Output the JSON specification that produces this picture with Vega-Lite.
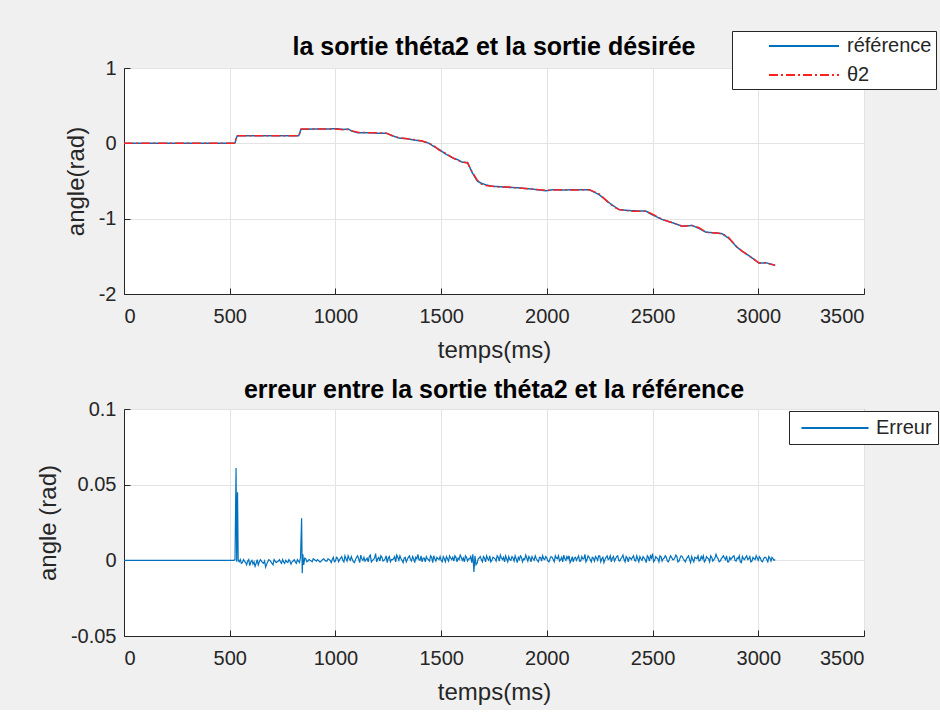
{
  "$schema": "https://vega.github.io/schema/vega-lite/v6.json",
  "autosize": {"type": "pad"},
  "padding": {"left": 35, "top": 30, "right": 3, "bottom": 5},
  "background": "#f0f0f0",
  "spacing": 115,
  "bounds": "flush",
  "config": {
    "font": "Liberation Sans",
    "view": {"fill": "white", "stroke": "#262626", "strokeWidth": 1},
    "axis": {"domainColor": "#262626", "tickColor": "#262626", "labelColor": "#262626", "titleColor": "#262626", "gridColor": "#e3e3e3", "labelFontSize": 20, "titleFontSize": 24, "titleFontWeight": "normal", "labelFont": "Liberation Sans", "titleFont": "Liberation Sans", "tickSize": -6},
    "axisX": {"labelPadding": 18, "titlePadding": 12, "format": "d"},
    "axisY": {"labelPadding": 14, "titlePadding": 10},
    "title": {"fontSize": 25, "fontWeight": "bold", "color": "#000000", "anchor": "middle", "font": "Liberation Sans"}
  },
  "datasets": {
    "top": [
      {"t": 0, "référence": 0, "θ2": 0},
      {"t": 300, "référence": 0, "θ2": 0},
      {"t": 525, "référence": 0, "θ2": 0},
      {"t": 530, "référence": 0.06, "θ2": 0.07},
      {"t": 536, "référence": 0.1, "θ2": 0.1},
      {"t": 600, "référence": 0.1, "θ2": 0.1},
      {"t": 700, "référence": 0.102, "θ2": 0.1},
      {"t": 780, "référence": 0.1, "θ2": 0.1},
      {"t": 826, "référence": 0.1, "θ2": 0.1},
      {"t": 830, "référence": 0.13, "θ2": 0.12},
      {"t": 837, "référence": 0.185, "θ2": 0.19},
      {"t": 900, "référence": 0.19, "θ2": 0.19},
      {"t": 960, "référence": 0.19, "θ2": 0.19},
      {"t": 1000, "référence": 0.195, "θ2": 0.19},
      {"t": 1040, "référence": 0.185, "θ2": 0.18},
      {"t": 1060, "référence": 0.19, "θ2": 0.185},
      {"t": 1080, "référence": 0.16, "θ2": 0.165},
      {"t": 1110, "référence": 0.14, "θ2": 0.145},
      {"t": 1170, "référence": 0.14, "θ2": 0.14},
      {"t": 1200, "référence": 0.135, "θ2": 0.14},
      {"t": 1240, "référence": 0.135, "θ2": 0.135},
      {"t": 1270, "référence": 0.1, "θ2": 0.1},
      {"t": 1300, "référence": 0.07, "θ2": 0.075},
      {"t": 1340, "référence": 0.06, "θ2": 0.06},
      {"t": 1370, "référence": 0.045, "θ2": 0.05},
      {"t": 1410, "référence": 0.03, "θ2": 0.03},
      {"t": 1443, "référence": 0.0, "θ2": 0.0},
      {"t": 1470, "référence": -0.05, "θ2": -0.04},
      {"t": 1490, "référence": -0.08, "θ2": -0.09},
      {"t": 1520, "référence": -0.14, "θ2": -0.13},
      {"t": 1553, "référence": -0.19, "θ2": -0.19},
      {"t": 1580, "référence": -0.22, "θ2": -0.23},
      {"t": 1600, "référence": -0.25, "θ2": -0.25},
      {"t": 1625, "référence": -0.255, "θ2": -0.26},
      {"t": 1647, "référence": -0.39, "θ2": -0.38},
      {"t": 1671, "référence": -0.5, "θ2": -0.49},
      {"t": 1690, "référence": -0.53, "θ2": -0.54},
      {"t": 1711, "référence": -0.55, "θ2": -0.56},
      {"t": 1740, "référence": -0.57, "θ2": -0.57},
      {"t": 1774, "référence": -0.575, "θ2": -0.58},
      {"t": 1821, "référence": -0.585, "θ2": -0.58},
      {"t": 1860, "référence": -0.59, "θ2": -0.59},
      {"t": 1900, "référence": -0.6, "θ2": -0.6},
      {"t": 1940, "référence": -0.61, "θ2": -0.61},
      {"t": 1996, "référence": -0.63, "θ2": -0.625},
      {"t": 2030, "référence": -0.615, "θ2": -0.62},
      {"t": 2080, "référence": -0.62, "θ2": -0.615},
      {"t": 2130, "référence": -0.615, "θ2": -0.62},
      {"t": 2200, "référence": -0.615, "θ2": -0.615},
      {"t": 2247, "référence": -0.68, "θ2": -0.67},
      {"t": 2290, "référence": -0.78, "θ2": -0.78},
      {"t": 2320, "référence": -0.84, "θ2": -0.85},
      {"t": 2342, "référence": -0.88, "θ2": -0.88},
      {"t": 2400, "référence": -0.895, "θ2": -0.9},
      {"t": 2469, "référence": -0.9, "θ2": -0.9},
      {"t": 2500, "référence": -0.95, "θ2": -0.94},
      {"t": 2545, "référence": -1.01, "θ2": -1.01},
      {"t": 2590, "référence": -1.05, "θ2": -1.05},
      {"t": 2640, "référence": -1.1, "θ2": -1.1},
      {"t": 2687, "référence": -1.09, "θ2": -1.09},
      {"t": 2720, "référence": -1.13, "θ2": -1.12},
      {"t": 2753, "référence": -1.18, "θ2": -1.18},
      {"t": 2800, "référence": -1.19, "θ2": -1.19},
      {"t": 2829, "référence": -1.2, "θ2": -1.2},
      {"t": 2860, "référence": -1.26, "θ2": -1.25},
      {"t": 2900, "référence": -1.38, "θ2": -1.38},
      {"t": 2923, "référence": -1.43, "θ2": -1.43},
      {"t": 2960, "référence": -1.5, "θ2": -1.5},
      {"t": 3004, "référence": -1.59, "θ2": -1.59},
      {"t": 3037, "référence": -1.585, "θ2": -1.59},
      {"t": 3055, "référence": -1.6, "θ2": -1.6},
      {"t": 3080, "référence": -1.62, "θ2": -1.62}
    ],
    "err": [
      {"t": 0, "e": 0}, {"t": 520, "e": 0}, {"t": 525, "e": 0.0005}, {"t": 530, "e": 0.061}, {"t": 533, "e": -0.001}, {"t": 537, "e": 0.045}, {"t": 540, "e": 0}, {"t": 545, "e": -0.001},
      {"t": 550, "e": 0.0005}, {"t": 560, "e": -0.0015}, {"t": 570, "e": -0.0005}, {"t": 580, "e": -0.003}, {"t": 590, "e": 0.0005}, {"t": 600, "e": -0.001}, {"t": 610, "e": -0.0025}, {"t": 620, "e": -0.004}, {"t": 630, "e": 0.0005}, {"t": 640, "e": -0.001}, {"t": 650, "e": -0.0005}, {"t": 660, "e": -0.002}, {"t": 670, "e": -0.0045}, {"t": 680, "e": -0.001}, {"t": 690, "e": 0}, {"t": 700, "e": -0.002}, {"t": 710, "e": 0.0005}, {"t": 720, "e": -0.0015}, {"t": 730, "e": -0.0005}, {"t": 740, "e": -0.001}, {"t": 750, "e": 0.0005}, {"t": 760, "e": -0.002}, {"t": 770, "e": -0.001}, {"t": 780, "e": 0.0005}, {"t": 790, "e": -0.0025}, {"t": 800, "e": -0.0005}, {"t": 810, "e": -0.001}, {"t": 820, "e": 0.0005}, {"t": 830, "e": -0.0015},
      {"t": 835, "e": 0.002}, {"t": 840, "e": 0.0278}, {"t": 843, "e": -0.0086}, {"t": 846, "e": 0.004}, {"t": 850, "e": -0.003}, {"t": 860, "e": 0.001}, {"t": 870, "e": -0.0005}, {"t": 880, "e": 0}, {"t": 890, "e": -0.001}, {"t": 900, "e": 0.0005}, {"t": 910, "e": -0.0005}, {"t": 920, "e": 0}, {"t": 930, "e": -0.001}, {"t": 940, "e": 0.0005}, {"t": 950, "e": 0}, {"t": 960, "e": -0.0005}, {"t": 970, "e": 0.0005}, {"t": 980, "e": -0.0015}, {"t": 990, "e": 0.002},
      {"t": 1000, "e": -0.0005}, {"t": 1010, "e": 0.0015}, {"t": 1020, "e": 0.0005}, {"t": 1030, "e": 0.0025}, {"t": 1040, "e": -0.001}, {"t": 1050, "e": 0.001}, {"t": 1060, "e": 0.003}, {"t": 1070, "e": 0}, {"t": 1080, "e": 0.0005}, {"t": 1090, "e": -0.0015}, {"t": 1100, "e": 0.002}, {"t": 1110, "e": 0.001}, {"t": 1120, "e": 0.0035}, {"t": 1130, "e": 0}, {"t": 1140, "e": -0.0005}, {"t": 1150, "e": 0.0015}, {"t": 1160, "e": 0.0025}, {"t": 1170, "e": -0.001}, {"t": 1180, "e": 0.0005}, {"t": 1190, "e": 0.0045}, {"t": 1200, "e": 0.001}, {"t": 1210, "e": -0.0005}, {"t": 1220, "e": 0.002}, {"t": 1230, "e": 0}, {"t": 1240, "e": 0.003}, {"t": 1250, "e": 0.0015}, {"t": 1260, "e": -0.001}, {"t": 1270, "e": 0.0005}, {"t": 1280, "e": 0.0025}, {"t": 1290, "e": 0.0035}, {"t": 1300, "e": 0}, {"t": 1310, "e": 0.001}, {"t": 1320, "e": -0.0015}, {"t": 1330, "e": 0.002}, {"t": 1340, "e": 0.0005}, {"t": 1350, "e": 0.003}, {"t": 1360, "e": -0.0005}, {"t": 1370, "e": 0.001}, {"t": 1380, "e": 0.002}, {"t": 1390, "e": 0.004}, {"t": 1400, "e": 0}, {"t": 1410, "e": -0.001}, {"t": 1420, "e": 0.0015}, {"t": 1430, "e": 0.0025}, {"t": 1440, "e": 0.0005}, {"t": 1450, "e": 0.003}, {"t": 1460, "e": -0.0015}, {"t": 1470, "e": 0.001}, {"t": 1480, "e": 0.002}, {"t": 1490, "e": 0.0005},
      {"t": 1500, "e": 0}, {"t": 1510, "e": 0.0025}, {"t": 1520, "e": -0.001}, {"t": 1530, "e": 0.001}, {"t": 1540, "e": 0.003}, {"t": 1550, "e": 0.0005}, {"t": 1560, "e": -0.0005}, {"t": 1570, "e": 0.002}, {"t": 1580, "e": 0.0015}, {"t": 1590, "e": 0.0035}, {"t": 1600, "e": 0}, {"t": 1610, "e": -0.001}, {"t": 1620, "e": 0.002}, {"t": 1630, "e": 0.001}, {"t": 1640, "e": 0.0025}, {"t": 1650, "e": 0.004}, {"t": 1655, "e": -0.0077}, {"t": 1660, "e": 0.003}, {"t": 1670, "e": -0.002}, {"t": 1680, "e": 0.0015}, {"t": 1690, "e": 0.0005}, {"t": 1700, "e": 0.0025}, {"t": 1710, "e": -0.001}, {"t": 1720, "e": 0.001}, {"t": 1730, "e": 0.003}, {"t": 1740, "e": 0}, {"t": 1750, "e": 0.0015}, {"t": 1760, "e": -0.0005}, {"t": 1770, "e": 0.002}, {"t": 1780, "e": 0.0035}, {"t": 1790, "e": 0.0005}, {"t": 1800, "e": -0.001}, {"t": 1810, "e": 0.001}, {"t": 1820, "e": 0.0025}, {"t": 1830, "e": 0}, {"t": 1840, "e": 0.0015}, {"t": 1850, "e": 0.003}, {"t": 1860, "e": -0.0015}, {"t": 1870, "e": 0.0005}, {"t": 1880, "e": 0.002}, {"t": 1890, "e": 0.001}, {"t": 1900, "e": 0.0035}, {"t": 1910, "e": -0.0005}, {"t": 1920, "e": 0.0015}, {"t": 1930, "e": 0.0025}, {"t": 1940, "e": 0}, {"t": 1950, "e": 0.001}, {"t": 1960, "e": -0.001}, {"t": 1970, "e": 0.002}, {"t": 1980, "e": 0.003}, {"t": 1990, "e": 0.0005},
      {"t": 2000, "e": 0.0015}, {"t": 2010, "e": -0.001}, {"t": 2020, "e": 0.0025}, {"t": 2030, "e": 0.0005}, {"t": 2040, "e": 0.003}, {"t": 2050, "e": 0.001}, {"t": 2060, "e": -0.0005}, {"t": 2070, "e": 0.002}, {"t": 2080, "e": 0.0035}, {"t": 2090, "e": 0}, {"t": 2100, "e": 0.001}, {"t": 2110, "e": -0.0015}, {"t": 2120, "e": 0.0025}, {"t": 2130, "e": 0.0015}, {"t": 2140, "e": 0}, {"t": 2150, "e": 0.003}, {"t": 2160, "e": -0.0005}, {"t": 2170, "e": 0.001}, {"t": 2180, "e": 0.004}, {"t": 2190, "e": 0.0005}, {"t": 2200, "e": 0.002}, {"t": 2210, "e": -0.001}, {"t": 2220, "e": 0.0015}, {"t": 2230, "e": 0.0025}, {"t": 2240, "e": 0}, {"t": 2250, "e": 0.003}, {"t": 2260, "e": 0.001}, {"t": 2270, "e": -0.0015}, {"t": 2280, "e": 0.002}, {"t": 2290, "e": 0.0005}, {"t": 2300, "e": 0.003}, {"t": 2310, "e": 0.0015}, {"t": 2320, "e": -0.0005}, {"t": 2330, "e": 0.0025}, {"t": 2340, "e": 0}, {"t": 2350, "e": 0.001}, {"t": 2360, "e": 0.0035}, {"t": 2370, "e": -0.001}, {"t": 2380, "e": 0.0015}, {"t": 2390, "e": 0.002}, {"t": 2400, "e": 0.0005}, {"t": 2410, "e": 0.003}, {"t": 2420, "e": -0.0005}, {"t": 2430, "e": 0.001}, {"t": 2440, "e": 0.0025}, {"t": 2450, "e": 0}, {"t": 2460, "e": 0.0015}, {"t": 2470, "e": -0.0015}, {"t": 2480, "e": 0.002}, {"t": 2490, "e": 0.003},
      {"t": 2500, "e": 0.0045}, {"t": 2510, "e": 0}, {"t": 2520, "e": 0.0015}, {"t": 2530, "e": -0.001}, {"t": 2540, "e": 0.0025}, {"t": 2550, "e": 0.001}, {"t": 2560, "e": 0.003}, {"t": 2570, "e": -0.0005}, {"t": 2580, "e": 0.001}, {"t": 2590, "e": 0.002}, {"t": 2600, "e": 0.0005}, {"t": 2610, "e": 0.0035}, {"t": 2620, "e": -0.001}, {"t": 2630, "e": 0.0015}, {"t": 2640, "e": 0.0025}, {"t": 2650, "e": 0}, {"t": 2660, "e": 0.001}, {"t": 2670, "e": 0.003}, {"t": 2680, "e": -0.0015}, {"t": 2690, "e": 0.0005}, {"t": 2700, "e": 0.002}, {"t": 2710, "e": 0.001}, {"t": 2720, "e": -0.0005}, {"t": 2730, "e": 0.0025}, {"t": 2740, "e": 0.003}, {"t": 2750, "e": 0}, {"t": 2760, "e": 0.0015}, {"t": 2770, "e": -0.001}, {"t": 2780, "e": 0.002}, {"t": 2790, "e": 0.0005}, {"t": 2800, "e": 0.004}, {"t": 2810, "e": 0.001}, {"t": 2820, "e": -0.0005}, {"t": 2830, "e": 0.002}, {"t": 2840, "e": 0.0015}, {"t": 2850, "e": 0.003}, {"t": 2860, "e": -0.001}, {"t": 2870, "e": 0.0005}, {"t": 2880, "e": 0.0025}, {"t": 2890, "e": 0}, {"t": 2900, "e": 0.0015}, {"t": 2910, "e": 0.003}, {"t": 2920, "e": -0.0015}, {"t": 2930, "e": 0.001}, {"t": 2940, "e": 0.002}, {"t": 2950, "e": 0.0005}, {"t": 2960, "e": 0.0025}, {"t": 2970, "e": -0.0005}, {"t": 2980, "e": 0.001}, {"t": 2990, "e": 0.003},
      {"t": 3000, "e": 0}, {"t": 3010, "e": 0.0015}, {"t": 3020, "e": -0.001}, {"t": 3030, "e": 0.002}, {"t": 3040, "e": 0.0005}, {"t": 3050, "e": 0.0025}, {"t": 3060, "e": -0.0005}, {"t": 3070, "e": 0.001}, {"t": 3080, "e": 0.0005},
      {"t": 555, "e": -0.002}, {"t": 565, "e": 0.0005}, {"t": 575, "e": -0.0015}, {"t": 585, "e": -0.0005}, {"t": 595, "e": -0.0035}, {"t": 605, "e": 0}, {"t": 615, "e": -0.001}, {"t": 625, "e": -0.002}, {"t": 635, "e": -0.003}, {"t": 645, "e": 0.0005}, {"t": 655, "e": -0.0015}, {"t": 665, "e": -0.0005}, {"t": 675, "e": -0.0025}, {"t": 685, "e": 0.0005}, {"t": 695, "e": -0.001}, {"t": 705, "e": -0.003}, {"t": 715, "e": -0.0005}, {"t": 725, "e": -0.001}, {"t": 735, "e": 0.0005}, {"t": 745, "e": -0.002}, {"t": 755, "e": -0.001}, {"t": 765, "e": 0}, {"t": 775, "e": -0.0015}, {"t": 785, "e": -0.0005}, {"t": 795, "e": -0.001}, {"t": 805, "e": 0.0005}, {"t": 815, "e": -0.002}, {"t": 825, "e": -0.0005},
      {"t": 855, "e": 0.0015}, {"t": 865, "e": -0.001}, {"t": 875, "e": 0.0005}, {"t": 885, "e": -0.0005}, {"t": 895, "e": 0.001}, {"t": 905, "e": 0}, {"t": 915, "e": 0.0005}, {"t": 925, "e": -0.001}, {"t": 935, "e": 0}, {"t": 945, "e": 0.001}, {"t": 955, "e": -0.0005}, {"t": 965, "e": 0.001}, {"t": 975, "e": 0}, {"t": 985, "e": 0.0005}, {"t": 995, "e": -0.001},
      {"t": 1005, "e": 0.002}, {"t": 1015, "e": -0.001}, {"t": 1025, "e": 0.0015}, {"t": 1035, "e": 0}, {"t": 1045, "e": 0.003}, {"t": 1055, "e": -0.0005}, {"t": 1065, "e": 0.001}, {"t": 1075, "e": 0.0025}, {"t": 1085, "e": -0.001}, {"t": 1095, "e": 0.0005}, {"t": 1105, "e": 0.003}, {"t": 1115, "e": -0.0015}, {"t": 1125, "e": 0.001}, {"t": 1135, "e": 0.002}, {"t": 1145, "e": 0.0005}, {"t": 1155, "e": -0.001}, {"t": 1165, "e": 0.0035}, {"t": 1175, "e": 0}, {"t": 1185, "e": 0.0015}, {"t": 1195, "e": -0.001}, {"t": 1205, "e": 0.002}, {"t": 1215, "e": 0.003}, {"t": 1225, "e": -0.0005}, {"t": 1235, "e": 0.001}, {"t": 1245, "e": -0.0015}, {"t": 1255, "e": 0.0025}, {"t": 1265, "e": 0.0005}, {"t": 1275, "e": 0.001}, {"t": 1285, "e": -0.001}, {"t": 1295, "e": 0.002}, {"t": 1305, "e": 0.003}, {"t": 1315, "e": 0}, {"t": 1325, "e": 0.0015}, {"t": 1335, "e": -0.001}, {"t": 1345, "e": 0.002}, {"t": 1355, "e": 0.0005}, {"t": 1365, "e": 0.0025}, {"t": 1375, "e": -0.0015}, {"t": 1385, "e": 0.001}, {"t": 1395, "e": 0.0005}, {"t": 1405, "e": 0.003}, {"t": 1415, "e": 0.0015}, {"t": 1425, "e": -0.001}, {"t": 1435, "e": 0.001}, {"t": 1445, "e": -0.0005}, {"t": 1455, "e": 0.002}, {"t": 1465, "e": 0.003}, {"t": 1475, "e": -0.0005}, {"t": 1485, "e": 0.001}, {"t": 1495, "e": 0.0025},
      {"t": 1505, "e": -0.001}, {"t": 1515, "e": 0.001}, {"t": 1525, "e": 0.0025}, {"t": 1535, "e": -0.0005}, {"t": 1545, "e": 0.0015}, {"t": 1555, "e": 0.002}, {"t": 1565, "e": 0.003}, {"t": 1575, "e": -0.001}, {"t": 1585, "e": 0.0005}, {"t": 1595, "e": 0.002}, {"t": 1605, "e": 0.0015}, {"t": 1615, "e": 0.003}, {"t": 1625, "e": -0.0005}, {"t": 1635, "e": 0.001}, {"t": 1645, "e": -0.0015}, {"t": 1665, "e": -0.003}, {"t": 1675, "e": 0.001}, {"t": 1685, "e": 0.0025}, {"t": 1695, "e": -0.001}, {"t": 1705, "e": 0.0015}, {"t": 1715, "e": 0.003}, {"t": 1725, "e": 0}, {"t": 1735, "e": -0.001}, {"t": 1745, "e": 0.002}, {"t": 1755, "e": 0.001}, {"t": 1765, "e": 0.003}, {"t": 1775, "e": -0.0005}, {"t": 1785, "e": 0.0015}, {"t": 1795, "e": 0.002}, {"t": 1805, "e": 0.003}, {"t": 1815, "e": -0.001}, {"t": 1825, "e": 0.0005}, {"t": 1835, "e": 0.0025}, {"t": 1845, "e": -0.0005}, {"t": 1855, "e": 0.001}, {"t": 1865, "e": 0.002}, {"t": 1875, "e": 0.003}, {"t": 1885, "e": -0.001}, {"t": 1895, "e": 0.0005}, {"t": 1905, "e": 0.0015}, {"t": 1915, "e": 0.0025}, {"t": 1925, "e": -0.001}, {"t": 1935, "e": 0.001}, {"t": 1945, "e": 0.003}, {"t": 1955, "e": 0}, {"t": 1965, "e": 0.002}, {"t": 1975, "e": -0.0005}, {"t": 1985, "e": 0.001}, {"t": 1995, "e": 0.0025},
      {"t": 2005, "e": -0.0005}, {"t": 2015, "e": 0.001}, {"t": 2025, "e": 0.002}, {"t": 2035, "e": -0.001}, {"t": 2045, "e": 0.0015}, {"t": 2055, "e": 0.003}, {"t": 2065, "e": 0.0005}, {"t": 2075, "e": -0.001}, {"t": 2085, "e": 0.001}, {"t": 2095, "e": 0.0025}, {"t": 2105, "e": 0.003}, {"t": 2115, "e": 0}, {"t": 2125, "e": -0.001}, {"t": 2135, "e": 0.002}, {"t": 2145, "e": 0.0015}, {"t": 2155, "e": -0.0005}, {"t": 2165, "e": 0.0025}, {"t": 2175, "e": 0.001}, {"t": 2185, "e": -0.001}, {"t": 2195, "e": 0.003}, {"t": 2205, "e": 0.0005}, {"t": 2215, "e": 0.002}, {"t": 2225, "e": -0.0005}, {"t": 2235, "e": 0.0015}, {"t": 2245, "e": 0.003}, {"t": 2255, "e": -0.001}, {"t": 2265, "e": 0.002}, {"t": 2275, "e": 0.0005}, {"t": 2285, "e": 0.003}, {"t": 2295, "e": 0.001}, {"t": 2305, "e": -0.001}, {"t": 2315, "e": 0.0025}, {"t": 2325, "e": 0.001}, {"t": 2335, "e": 0.003}, {"t": 2345, "e": -0.0005}, {"t": 2355, "e": 0.002}, {"t": 2365, "e": 0.0005}, {"t": 2375, "e": 0.0025}, {"t": 2385, "e": -0.001}, {"t": 2395, "e": 0.0015}, {"t": 2405, "e": 0.002}, {"t": 2415, "e": 0}, {"t": 2425, "e": 0.003}, {"t": 2435, "e": -0.001}, {"t": 2445, "e": 0.001}, {"t": 2455, "e": 0.0025}, {"t": 2465, "e": 0.0005}, {"t": 2475, "e": 0.003}, {"t": 2485, "e": -0.0005}, {"t": 2495, "e": 0.0015},
      {"t": 2505, "e": -0.001}, {"t": 2515, "e": 0.0025}, {"t": 2525, "e": 0.001}, {"t": 2535, "e": 0.003}, {"t": 2545, "e": -0.0005}, {"t": 2555, "e": 0.0015}, {"t": 2565, "e": 0.002}, {"t": 2575, "e": -0.001}, {"t": 2585, "e": 0.003}, {"t": 2595, "e": 0.0005}, {"t": 2605, "e": 0.0015}, {"t": 2615, "e": 0.0025}, {"t": 2625, "e": -0.0005}, {"t": 2635, "e": 0.003}, {"t": 2645, "e": 0.001}, {"t": 2655, "e": -0.001}, {"t": 2665, "e": 0.002}, {"t": 2675, "e": 0.0005}, {"t": 2685, "e": 0.0025}, {"t": 2695, "e": -0.001}, {"t": 2705, "e": 0.0015}, {"t": 2715, "e": 0.003}, {"t": 2725, "e": 0}, {"t": 2735, "e": 0.001}, {"t": 2745, "e": -0.001}, {"t": 2755, "e": 0.0025}, {"t": 2765, "e": 0.001}, {"t": 2775, "e": 0.003}, {"t": 2785, "e": -0.0005}, {"t": 2795, "e": 0.0015}, {"t": 2805, "e": 0.002}, {"t": 2815, "e": -0.001}, {"t": 2825, "e": 0.001}, {"t": 2835, "e": 0.003}, {"t": 2845, "e": 0.0005}, {"t": 2855, "e": -0.001}, {"t": 2865, "e": 0.002}, {"t": 2875, "e": 0.0015}, {"t": 2885, "e": 0.003}, {"t": 2895, "e": -0.0005}, {"t": 2905, "e": 0.001}, {"t": 2915, "e": -0.001}, {"t": 2925, "e": 0.0025}, {"t": 2935, "e": 0.0005}, {"t": 2945, "e": 0.003}, {"t": 2955, "e": 0.001}, {"t": 2965, "e": -0.001}, {"t": 2975, "e": 0.002}, {"t": 2985, "e": 0.0005}, {"t": 2995, "e": 0.0015},
      {"t": 3005, "e": 0.0025}, {"t": 3015, "e": -0.0005}, {"t": 3025, "e": 0.001}, {"t": 3035, "e": 0.002}, {"t": 3045, "e": -0.001}, {"t": 3055, "e": 0.0015}, {"t": 3065, "e": 0.002}, {"t": 3075, "e": 0}
    ]
  },
  "vconcat": [
    {
      "width": 740,
      "height": 226,
      "title": {"text": "la sortie théta2 et la sortie désirée", "offset": -29},
      "data": {"name": "top"},
      "transform": [{"fold": ["référence", "θ2"], "as": ["serie", "val"]}],
      "mark": {"type": "line", "strokeWidth": 1.5, "clip": true},
      "encoding": {
        "x": {"field": "t", "type": "quantitative", "scale": {"domain": [0, 3500], "nice": false}, "axis": {"values": [0, 500, 1000, 1500, 2000, 2500, 3000, 3500], "title": "temps(ms)"}},
        "y": {"field": "val", "type": "quantitative", "scale": {"domain": [-2, 1], "nice": false}, "axis": {"values": [-2, -1, 0, 1], "labelExpr": "'' + datum.value", "title": "angle(rad)"}},
        "color": {"field": "serie", "type": "nominal", "scale": {"domain": ["référence", "θ2"], "range": ["#0072BD", "#FF2020"]},
          "legend": {"orient": "none", "legendX": 608, "legendY": -37, "title": null, "symbolType": "M-3.5,0H3.5", "symbolSize": 400, "symbolStrokeWidth": 2, "labelFontSize": 20, "labelColor": "#262626", "labelOffset": 32, "strokeColor": "#262626", "fillColor": "white", "padding": 4, "rowPadding": 8, "symbolOffset": 57}},
        "strokeDash": {"field": "serie", "type": "nominal", "scale": {"domain": ["référence", "θ2"], "range": [[1, 0], [9, 3, 2, 3]]},
          "legend": {"orient": "none", "legendX": 608, "legendY": -37, "title": null, "symbolType": "M-3.5,0H3.5", "symbolSize": 400, "symbolStrokeWidth": 2, "labelFontSize": 20, "labelColor": "#262626", "labelOffset": 32, "strokeColor": "#262626", "fillColor": "white", "padding": 4, "rowPadding": 8, "symbolOffset": 57}}
      }
    },
    {
      "width": 740,
      "height": 227,
      "title": {"text": "erreur entre la sortie théta2 et la référence", "offset": -4},
      "data": {"name": "err"},
      "mark": {"type": "line", "strokeWidth": 1.2, "clip": true},
      "encoding": {
        "x": {"field": "t", "type": "quantitative", "scale": {"domain": [0, 3500], "nice": false}, "axis": {"values": [0, 500, 1000, 1500, 2000, 2500, 3000, 3500], "title": "temps(ms)"}},
        "y": {"field": "e", "type": "quantitative", "scale": {"domain": [-0.05, 0.1], "nice": false, "zero": false}, "axis": {"values": [-0.05, 0, 0.05, 0.1], "labelExpr": "'' + datum.value", "title": "angle (rad)"}},
        "color": {"datum": "Erreur", "type": "nominal", "scale": {"domain": ["Erreur"], "range": ["#0072BD"]},
          "legend": {"orient": "none", "legendX": 665, "legendY": 2, "title": null, "symbolType": "M-3.35,0H3.35", "symbolSize": 400, "symbolStrokeWidth": 2, "labelFontSize": 20, "labelColor": "#262626", "labelOffset": 30, "strokeColor": "#262626", "fillColor": "white", "padding": 6, "symbolOffset": 29}}
      }
    }
  ],
  "resolve": {"scale": {"color": "independent", "strokeDash": "independent"}, "legend": {"color": "independent", "strokeDash": "independent"}}
}
